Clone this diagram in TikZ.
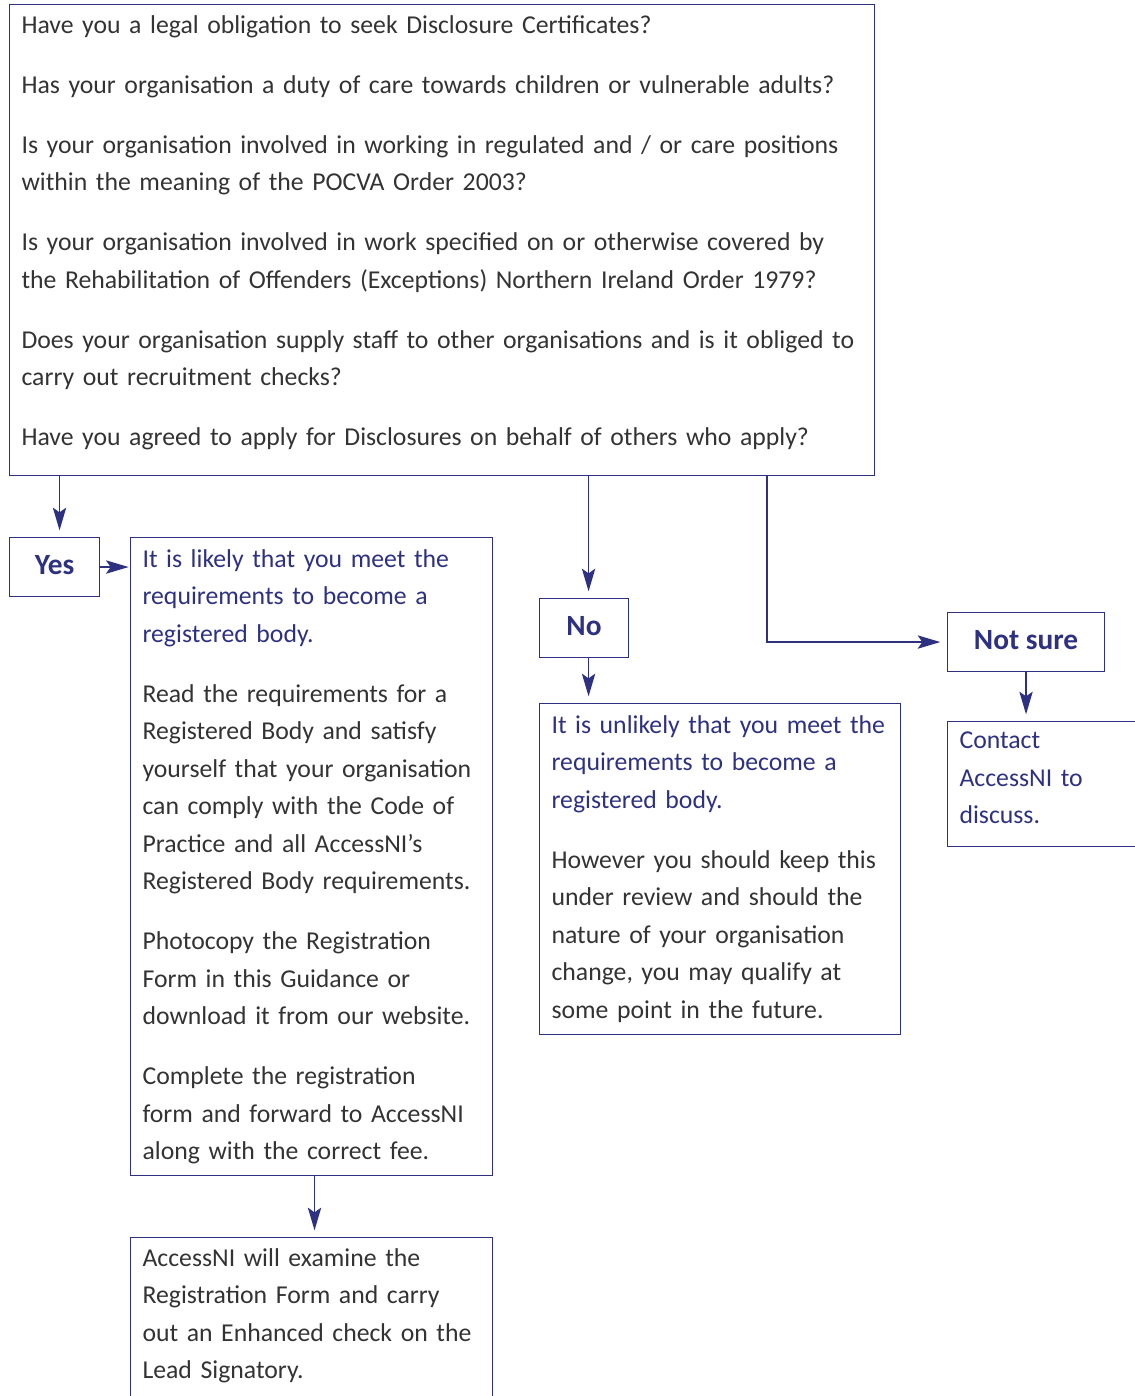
\documentclass[tikz,border=0pt]{standalone}
\usepackage{fontspec}
\setmainfont{Carlito}
\usepackage{xcolor}
\usetikzlibrary{arrows.meta}

\definecolor{navy}{HTML}{2E3180}
\definecolor{ink}{HTML}{333333}
\newcommand{\txtsize}{\fontsize{19.3}{28.125}\selectfont}
\newcommand{\ansize}{\fontsize{22}{26}\selectfont\bfseries}
\newcommand{\pgap}{\\[16.875pt]}

\begin{document}
\begin{tikzpicture}[
    x=0.75pt, y=-0.75pt,
    box/.style={rectangle, draw=navy, line width=0.8pt, inner xsep=9pt, inner ysep=0pt, align=left, anchor=north west, font=\txtsize, text=ink},
    answer/.style={rectangle, draw=navy, line width=0.8pt, minimum height=44.25pt, text height=16pt, text depth=5pt, anchor=north west, font=\ansize, text=navy},
    arrow/.style={-{Stealth[length=17pt, width=10pt, inset=3.5pt]}, draw=navy, line width=1pt, shorten >=5pt}
]
\useasboundingbox (0, 0) rectangle (1135, 1396);
\clip (0, 0) rectangle (1135, 1396);

% questions
\node[box, minimum width=648.75pt, minimum height=353.25pt, text width=630.75pt] (qbox) at (9, 4) {Have you a legal obligation to seek Disclosure Certificates?\pgap
Has your organisation a duty of care towards children or vulnerable adults?\pgap
Is your organisation involved in working in regulated and / or care positions\\
within the meaning of the POCVA Order 2003?\pgap
Is your organisation involved in work specified on or otherwise covered by\\
the Rehabilitation of Offenders (Exceptions) Northern Ireland Order 1979?\pgap
Does your organisation supply staff to other organisations and is it obliged to\\
carry out recruitment checks?\pgap
Have you agreed to apply for Disclosures on behalf of others who apply?\\[-14pt]
\mbox{}};

% answers
\node[answer, minimum width=67.5pt] (yes) at (9, 537) {Yes};
\node[answer, minimum width=66.75pt] (no) at (539, 598) {No};
\node[answer, minimum width=117.75pt] (notsure) at (947, 612) {Not sure};

% outcomes
\node[box, minimum width=271.5pt, minimum height=478.5pt, text width=253.5pt] (likely) at (130, 537) {{\color{navy}It is likely that you meet the\\
requirements to become a\\
registered body.}\pgap
Read the requirements for a\\
Registered Body and satisfy\\
yourself that your organisation\\
can comply with the Code of\\
Practice and all AccessNI's\\
Registered Body requirements.\pgap
Photocopy the Registration\\
Form in this Guidance or\\
download it from our website.\pgap
Complete the registration\\
form and forward to AccessNI\\
along with the correct fee.};

\node[box, inner ysep=8pt, text width=253.5pt] (examine) at (130, 1237) {AccessNI will examine the\\
Registration Form and carry\\
out an Enhanced check on the\\
Lead Signatory.\\
\mbox{}};

\node[box, minimum width=270.75pt, minimum height=248.25pt, text width=252.75pt] (unlikely) at (539, 703) {{\color{navy}It is unlikely that you meet the\\
requirements to become a\\
registered body.}\pgap
However you should keep this\\
under review and should the\\
nature of your organisation\\
change, you may qualify at\\
some point in the future.};

\node[box, minimum width=150pt, minimum height=93.75pt, text width=132pt, text=navy] (contact) at (947, 721) {Contact\\
AccessNI to\\
discuss.\\[-19pt]
\mbox{}};

\coordinate (split) at (767, 475);

\draw[arrow] ([xshift=3.75pt]qbox.south -| yes.north) -- ([xshift=3.75pt]yes.north);
\draw[arrow, shorten >=1pt] (yes.east) -- (yes.east -| likely.west);
\draw[arrow] ([xshift=2.25pt]likely.south) -- ([xshift=2.25pt]examine.north);
\draw[arrow] ([xshift=3.4pt]qbox.south -| no.north) -- ([xshift=3.4pt]no.north);
\draw[arrow] ([xshift=3.4pt]no.south) -- ([xshift=3.4pt]no.south |- unlikely.north);
\draw[arrow] (split) |- (notsure.west);
\draw[arrow] (notsure.south) -- (notsure.south |- contact.north);

\end{tikzpicture}
\end{document}
